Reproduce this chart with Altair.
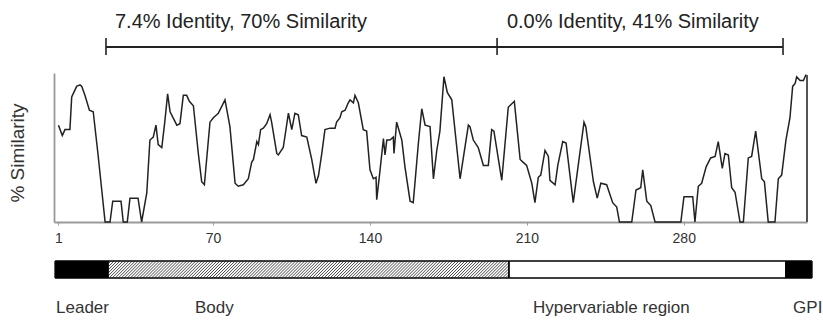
import altair as alt
import pandas as pd

# ---- data ----
positions = [1, 2.7, 3.9, 6.1, 6.9, 9.1, 10.6, 11.4, 12.8, 14.8, 16.5, 18.6, 21.8, 24, 25.2, 28.9, 29.9, 31.7,
             32.9, 36.5, 38.1, 40.4, 41.8, 43.3, 44.5, 45.5, 47.1, 48.5, 49.7, 50.8, 53.8, 55.2, 56.7, 58.2,
             59.4, 61.2, 63.4, 64.9, 66.1, 68.6, 70.1, 71.6, 72.3, 75.3, 77.5, 79.8, 81.2, 83.5, 85.7, 87.2,
             88, 89.5, 90.2, 91.2, 92.4, 93.9, 95.4, 96.1, 98.4, 99.1, 101.3, 103.6, 105.1, 106.5, 108, 109.5,
             111.8, 114, 115.9, 117, 118.5, 119.9, 122.2, 124.4, 125.1, 126.6, 127.4, 128.9, 130.3, 131.1,
             132.6, 133.3, 134.8, 137, 138.5, 140, 141.5, 142.7, 143, 144.5, 146, 146.7, 147.5, 148.9, 150.4,
             150.7, 151.9, 154.2, 155.6, 157.9, 159.3, 161.6, 163.1, 164.6, 166.8, 168.3, 169.8, 171.2, 173,
             174.5, 176.5, 180.2, 183.9, 184.6, 186.1, 188.3, 190.6, 192.8, 194.3, 195.3, 198.8, 201.7, 204.4,
             207, 208.4, 209.9, 212.2, 213.6, 215.1, 216.2, 218.1, 219.6, 220.3, 222.6, 223.8, 226, 227.5,
             230.7, 233, 235.5, 236.3, 239.7, 241.4, 243, 245.6, 248.3, 250.1, 251.3, 256.8, 258.7, 260.8,
             261.7, 263.5, 265.3, 267.2, 278.7, 280.1, 284, 285, 286.5, 288, 290, 292, 294, 295.4, 297.2,
             298.4, 299.9, 301.4, 302.9, 305.1, 306.6, 308.8, 310.3, 312.1, 314.8, 316, 317.7, 320.7, 322.2,
             323.7, 325.6, 327.4, 328.6, 329.7, 330.4, 331.9, 333.4, 334.6]
similarity = [65, 58, 62, 62, 84, 91, 92, 91, 85, 75, 74, 46, 0, 0, 14, 14, 0, 0,
              16, 16, 0, 19.5, 55, 57, 65, 52, 50, 68, 86, 74, 65, 66, 85, 85,
              81, 78, 46, 27, 25, 67, 70, 72, 73, 82, 64, 26, 24, 25, 29, 40,
              42, 54, 52, 62, 63, 66, 72, 67, 46, 45, 50, 73, 62, 73, 72, 58,
              57, 42, 26, 31, 46, 62, 63, 63, 67, 70, 74, 75, 80, 82,
              80, 85, 80, 62, 61, 35, 29, 30, 15, 35, 56, 45, 55, 55, 57,
              46, 67, 55, 37, 14, 13, 53, 76, 65, 64, 29, 48, 61, 97.5,
              87, 82, 29, 65, 64, 55, 50, 38, 38, 62, 61, 28, 77, 81,
              42, 40, 38, 26, 13, 30, 31.5, 48, 44, 28, 25, 38, 54, 53,
              13, 39, 67, 64, 27, 16, 26, 25, 13, 10, 0, 0, 21.5, 23,
              35, 14, 11, 0, 0, 17, 17, 0, 24, 26, 37, 43, 44, 54, 36,
              46, 45, 23, 20, 0, 0, 43, 44, 61, 29, 27, 0, 0, 29,
              31.5, 55, 70, 91, 93, 97.5, 95, 95, 99]

tick_values = [1, 70, 140, 210, 280]

bracket_points = [22.2, 196.7, 324.3]
bracket_texts = ["7.4% Identity, 70% Similarity", "0.0% Identity, 41% Similarity"]
bracket_text_pos = [26.2, 201.1]

region_names = ["Leader", "Body", "Hypervariable region", "GPI"]
region_start = [-0.5, 23.1, 202, 325.6]
region_end = [23.1, 202, 325.6, 337.2]
region_fill = ["black", "white", "white", "black"]
region_label_pos = [-0.1, 61.9, 212.7, 328.8]

y_title = "% Similarity"

FONT = "Liberation Sans"
x_scale = alt.Scale(domain=[-1, 335], nice=False, zero=False)

sim_df = pd.DataFrame({"pos": positions, "sim": similarity})
brk_df = pd.DataFrame({"x0": [min(bracket_points)], "x1": [max(bracket_points)]})
tick_df = pd.DataFrame({"t": bracket_points})
btxt_df = pd.DataFrame({"x": bracket_text_pos, "label": bracket_texts})
reg_df = pd.DataFrame({"s": region_start, "e": region_end, "fill": region_fill,
                       "lx": region_label_pos, "name": region_names})

line = alt.Chart(sim_df).mark_line(color="#222222", strokeWidth=1.5).encode(
    x=alt.X("pos:Q", scale=x_scale,
            axis=alt.Axis(values=tick_values, title=None, grid=False, domainColor="#9a9a9a",
                          domainWidth=1.8, tickColor="#9a9a9a", tickSize=3, labelFont=FONT,
                          labelFontSize=14, labelColor="#333333", labelPadding=6, labelFlush=False)),
    y=alt.Y("sim:Q", scale=alt.Scale(domain=[0, 100], nice=False),
            axis=alt.Axis(labels=False, ticks=False, title=None, grid=False,
                          domainColor="#9a9a9a", domainWidth=1.8)),
)

right_edge = alt.Chart(sim_df).mark_rule(color="#555555", strokeWidth=1.4).encode(
    x=alt.value(753), y=alt.value(2), y2=alt.value(149)
)

bracket_line = alt.Chart(brk_df).mark_rule(color="#222222", strokeWidth=1.8).encode(
    x=alt.X("x0:Q", scale=x_scale), x2="x1:Q", y=alt.value(-26)
)
bracket_ticks = alt.Chart(tick_df).mark_rule(color="#222222", strokeWidth=1.6).encode(
    x=alt.X("t:Q", scale=x_scale), y=alt.value(-35), y2=alt.value(-18)
)
bracket_text = alt.Chart(btxt_df).mark_text(
    align="left", baseline="alphabetic", font=FONT, fontSize=20, color="#222222"
).encode(x=alt.X("x:Q", scale=x_scale), y=alt.value(-45), text="label:N")

bar = alt.Chart(reg_df).mark_rect(stroke="black", strokeWidth=1).encode(
    x=alt.X("s:Q", scale=x_scale), x2="e:Q", y=alt.value(188), y2=alt.value(205),
    fill=alt.Fill("fill:N", scale=None)
)

# diagonal hatching of the Body segment
b0, b1 = region_start[1], region_end[1]
run = 17 / 2.241
hatch = alt.Chart(alt.sequence(b0 - run, b1, 1.35, as_="x0")).transform_calculate(
    f0=f"max(0, ({b0} - datum.x0) / {run})",
    f1=f"min(1, ({b1} - datum.x0) / {run})",
).transform_filter("datum.f1 > datum.f0").transform_calculate(
    xa=f"datum.x0 + {run} * datum.f0",
    xb=f"datum.x0 + {run} * datum.f1",
    ya="205 - 17 * datum.f0",
    yb="205 - 17 * datum.f1",
).mark_rule(color="#333333", strokeWidth=0.9).encode(
    x=alt.X("xa:Q", scale=x_scale), x2="xb:Q",
    y=alt.Y("ya:Q", scale=None), y2="yb:Q"
)

bar_outline = alt.Chart(reg_df).mark_rect(stroke="black", strokeWidth=1, fillOpacity=0).encode(
    x=alt.X("s:Q", scale=x_scale), x2="e:Q", y=alt.value(188), y2=alt.value(205)
)

region_labels = alt.Chart(reg_df).mark_text(
    align="left", baseline="alphabetic", font=FONT, fontSize=17, color="#333333"
).encode(x=alt.X("lx:Q", scale=x_scale), y=alt.value(240), text="name:N")

ytitle = alt.Chart(pd.DataFrame({"t": [y_title]})).mark_text(
    angle=270, align="center", baseline="middle", font=FONT, fontSize=19, color="#333333"
).encode(x=alt.value(-36), y=alt.value(80), text="t:N")

chart = alt.layer(
    line, right_edge, bracket_line, bracket_ticks, bracket_text,
    bar, hatch, bar_outline, region_labels, ytitle
).properties(
    width=753, height=149,
    autosize=alt.AutoSizeParams(type="none"),
    padding={"left": 54, "top": 73, "right": 16, "bottom": 98},
    background="white",
).configure_view(stroke=None)

chart.save("out.html", embed_options={"renderer": "svg", "actions": False})
